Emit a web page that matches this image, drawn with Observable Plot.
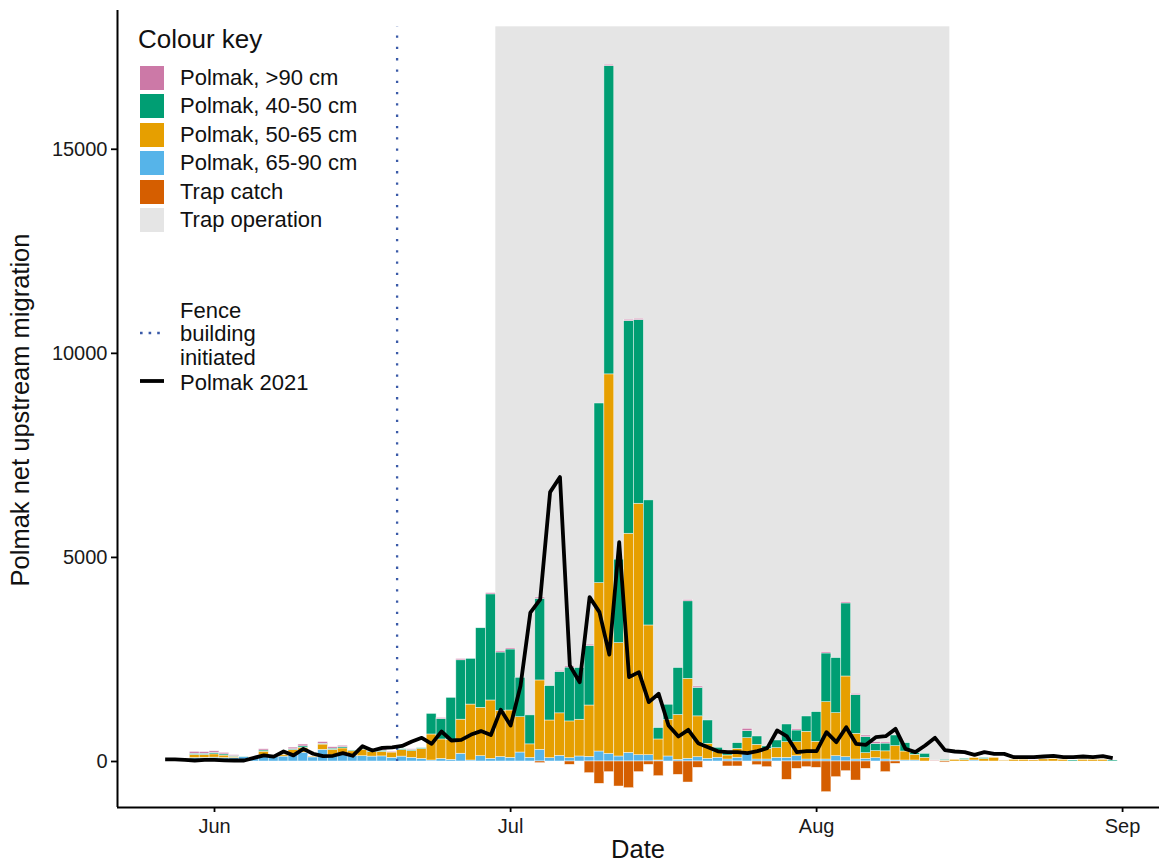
<!DOCTYPE html>
<html><head><meta charset="utf-8">
<script src="https://cdn.jsdelivr.net/npm/d3@7"></script>
<script src="https://cdn.jsdelivr.net/npm/@observablehq/plot@0.6"></script>
<style>
body{margin:0;background:#fff;font-family:"Liberation Sans",Arial,sans-serif;}
#wrap{position:relative;width:1159px;height:865px;overflow:hidden;background:#fff;color:#111;}
#wrap svg.chart{position:absolute;left:0;top:0;}
.abs{position:absolute;white-space:nowrap;}
</style></head><body><div id="wrap"></div><script>
// ---- data ----
const barStart = "2021-05-30", barEnd = "2021-08-31";
const gt90 = [45,40,40,35,20,0,0,30,0,0, 40,45,0,40,35,35,0,0,20,30, 20,0,15,0,0,25,0,30,0,0, 30,30,30,0,0,30,0,25,30,0, 30,0,30,0,30,30,0,0,0,0, 30,30,0,0,0,0,57,0,0,0, 0,30,0,0,30,0,30,30,40,40, 30,0,0,0,0,10,0,0,0,0, 0,0,0,0,0,10,0,0,0,0, 0,0,0,0];
const s40_50 = [30,30,35,30,20,15,0,30,0,0, 20,35,0,20,30,30,20,10,20,30, 0,20,30,20,505,500,1030,1455,1120,1950, 2600,1430,1495,965,710,2000,841,1015,1320,1266, 1460,4400,7555,2043,5212,4500,3064,278,368,1150, 1900,700,572,106,57,139,172,204,60,188, 433,286,376,727,1193,1348,1790,948,392,180, 190,261,204,40,98,0,20,0,25,0, 25,0,0,0,0,0,0,0,0,25, 0,0,0,25];
const s50_65 = [75,70,80,60,30,0,10,90,20,40, 130,120,20,130,140,130,120,160,110,110, 130,160,165,240,637,475,490,835,1370,1185, 1430,1130,1160,866,330,1700,923,1040,900,900, 1258,4126,9297,2778,5368,6160,3178,515,900,1100, 1960,1000,368,140,98,220,368,360,260,237, 384,343,678,433,1405,1054,1977,629,139,172, 200,351,220,140,90,15,20,40,40,60, 60,90,20,40,40,30,50,57,40,0, 40,40,40,0];
const s65_90 = [85,90,95,85,85,105,100,150,120,120, 150,215,100,285,145,190,130,130,120,125, 90,120,90,65,25,65,40,190,25,130, 65,110,90,220,90,286,82,140,82,123, 114,245,188,123,212,155,155,25,123,40, 65,106,65,90,49,90,204,49,49,90, 90,131,49,49,49,131,106,49,65,82, 49,25,25,25,0,0,0,0,0,25, 0,0,5,0,0,0,0,0,0,0, 0,0,0,0];
const trapCatch = [0,0,0,0,0,0,0,0,0,0, 0,0,0,0,0,0,0,0,0,0, 0,0,0,0,0,0,0,0,0,0, 0,0,0,0,0,40,0,0,82,0, 286,547,261,613,654,261,82,360,0,327, 515,155,0,0,122,122,0,90,139,0, 450,180,139,155,752,384,237,466,180,0, 261,57,0,0,0,0,25,0,0,0, 0,0,0,0,0,0,0,0,0,0, 0,0,0,0];
const lineStart = "2021-05-27", lineEnd = "2021-08-31";
const polmak2021 = [50,50,40,25,40,40,30,25,25,90, 150,120,245,150,310,190,130,140,205,140, 375,270,335,345,380,490,580,433,735,515, 530,660,745,650,1270,880,1850,3650,3975,6600, 6970,2350,1944,4028,3660,2620,5376,2067,2190,1454, 1659,882,613,776,450,351,250,229,229,204, 253,327,760,613,229,253,253,719,474,841, 433,408,596,621,800,310,229,392,580,280, 245,229,163,229,188,188,106,106,106,123, 139,106,106,123,106,131,82];
const trapOperation = ["2021-06-29T12:00Z", "2021-08-14T12:00Z"];
const trapOperationTop = 18000;
const fenceBuilding = "2021-06-19T12:00Z";
const xDomain = ["2021-05-22T04:08Z", "2021-09-04T17:46Z"];
const yDomain = [-1127, 18400];
const xTicks = ["2021-06-01", "2021-07-01", "2021-08-01", "2021-09-01"];
const xTickLabels = ["Jun", "Jul", "Aug", "Sep"];
const yTicks = [0, 5000, 10000, 15000];
const keyLabels = ["Polmak, >90 cm", "Polmak, 40-50 cm", "Polmak, 50-65 cm", "Polmak, 65-90 cm", "Trap catch", "Trap operation"];
const keyColors = ["#CC79A7", "#009E73", "#E69F00", "#56B4E9", "#D55E00", "#E5E5E5"];
const lineKeyLabels = ["Fence\nbuilding\ninitiated", "Polmak 2021"];

// ---- build tables ----
const days = d3.utcDay.range(new Date(barStart), d3.utcDay.offset(new Date(barEnd), 1));
const stackOrder = [[keyLabels[3], s65_90], [keyLabels[2], s50_65], [keyLabels[1], s40_50], [keyLabels[0], gt90]];
const stacked = [];
const trapRows = [];
days.forEach((d, i) => {
  const x1 = d3.utcHour.offset(d, -12), x2 = d3.utcHour.offset(d, 12);
  let base = 0;
  for (const [key, vals] of stackOrder) {
    const v = vals[i];
    if (v > 0) stacked.push({x1, x2, y1: base, y2: base + v, key});
    base += v;
  }
  if (trapCatch[i] > 0) trapRows.push({x1, x2, y1: 0, y2: -trapCatch[i], key: keyLabels[4]});
});
const lineDays = d3.utcDay.range(new Date(lineStart), d3.utcDay.offset(new Date(lineEnd), 1));
const lineRows = lineDays.map((d, i) => ({date: d, v: polmak2021[i]}));
const xMin = new Date(xDomain[0]), xMax = new Date(xDomain[1]);
const xTickDates = xTicks.map(s => new Date(s));

const chart = Plot.plot({
  width: 1159, height: 865,
  marginLeft: 117, marginRight: 0, marginTop: 10, marginBottom: 58,
  style: {fontFamily: "Liberation Sans, Arial, sans-serif", background: "transparent", color: "#1a1a1a", overflow: "visible"},
  x: {type: "utc", domain: [xMin, xMax]},
  y: {domain: yDomain},
  color: {domain: keyLabels, range: keyColors},
  marks: [
    Plot.rect([trapOperation], {x1: d => new Date(d[0]), x2: d => new Date(d[1]), y1: 0, y2: trapOperationTop, fill: keyColors[5]}),
    Plot.rect(stacked, {x1: "x1", x2: "x2", y1: "y1", y2: "y2", fill: "key", stroke: "white", strokeWidth: 0.6, strokeOpacity: 0.75}),
    Plot.rect(trapRows, {x1: "x1", x2: "x2", y1: "y1", y2: "y2", fill: "key", stroke: "white", strokeWidth: 0.6, strokeOpacity: 0.75}),
    Plot.ruleX([fenceBuilding], {x: d => new Date(d), y1: 0, y2: trapOperationTop, stroke: "#3a5aa8", strokeWidth: 2.3, strokeDasharray: "2.3,9"}),
    Plot.line(lineRows, {x: "date", y: "v", stroke: "black", strokeWidth: 3.8, strokeLinejoin: "round", strokeLinecap: "butt"}),
    Plot.ruleX([xMin], {stroke: "black", strokeWidth: 2}),
    Plot.ruleY([yDomain[0]], {stroke: "black", strokeWidth: 2}),
    Plot.axisX({ticks: xTickDates, tickFormat: d => xTickLabels[xTickDates.findIndex(t => +t === +d)], tickSize: 5, tickPadding: 6, fontSize: 20, stroke: "black", strokeWidth: 1.8, label: null}),
    Plot.axisY({ticks: yTicks, tickFormat: d => String(d), tickSize: 6, tickPadding: 4, fontSize: 20, stroke: "black", strokeWidth: 1.8, label: null})
  ]
});
chart.classList.add("chart");
const wrap = document.getElementById("wrap");
wrap.appendChild(chart);

// ---- titles ----
function addDiv(text, css) {
  const el = document.createElement("div");
  el.className = "abs";
  el.textContent = text;
  Object.assign(el.style, css);
  wrap.appendChild(el);
  return el;
}
addDiv("Polmak net upstream migration", {left: "21px", top: "410px", fontSize: "25.5px", lineHeight: "25.5px", transform: "translate(-50%,-50%) rotate(-90deg)", color: "#111"});
addDiv("Date", {left: "638px", top: "837px", fontSize: "25.5px", lineHeight: "25.5px", transform: "translateX(-50%)", color: "#111"});

// ---- legend ----
addDiv("Colour key", {left: "138px", top: "26px", fontSize: "26px", lineHeight: "26px"});
keyLabels.forEach((lab, i) => {
  const top = 66 + i * 28.4;
  const sq = document.createElement("div");
  sq.className = "abs";
  Object.assign(sq.style, {left: "140px", top: top + "px", width: "24px", height: "24px", background: keyColors[i]});
  wrap.appendChild(sq);
  addDiv(lab, {left: "180px", top: top + "px", fontSize: "22px", lineHeight: "24px"});
});
addDiv(lineKeyLabels[0], {left: "180px", top: "299px", fontSize: "22px", lineHeight: "23.3px", whiteSpace: "pre"});
addDiv(lineKeyLabels[1], {left: "180px", top: "371px", fontSize: "22px", lineHeight: "23.3px"});
const ns = "http://www.w3.org/2000/svg";
const keySvg = document.createElementNS(ns, "svg");
keySvg.setAttribute("width", "40"); keySvg.setAttribute("height", "100");
Object.assign(keySvg.style, {position: "absolute", left: "136px", top: "300px"});
const l1 = document.createElementNS(ns, "line");
l1.setAttribute("x1", 4); l1.setAttribute("x2", 28); l1.setAttribute("y1", 33); l1.setAttribute("y2", 33);
l1.setAttribute("stroke", "#3a5aa8"); l1.setAttribute("stroke-width", 2.6); l1.setAttribute("stroke-dasharray", "2.6,6");
const l2 = document.createElementNS(ns, "line");
l2.setAttribute("x1", 4); l2.setAttribute("x2", 28); l2.setAttribute("y1", 81); l2.setAttribute("y2", 81);
l2.setAttribute("stroke", "black"); l2.setAttribute("stroke-width", 3.8);
keySvg.appendChild(l1); keySvg.appendChild(l2);
wrap.appendChild(keySvg);
</script></body></html>
